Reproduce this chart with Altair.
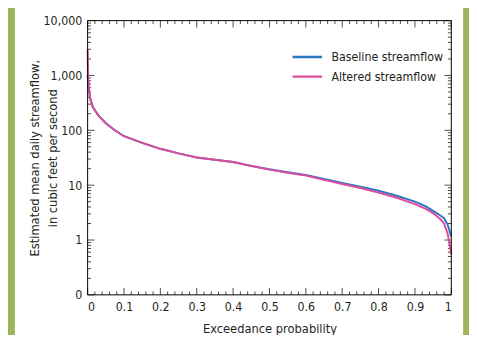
import altair as alt
import pandas as pd

prob = [0, 0.001, 0.003, 0.007, 0.015, 0.03, 0.05, 0.075, 0.1, 0.15, 0.2, 0.25, 0.3, 0.35, 0.4,
        0.45, 0.5, 0.55, 0.6, 0.65, 0.7, 0.75, 0.8, 0.85, 0.9, 0.93, 0.95, 0.97, 0.98, 0.99, 1.0]
baseline = [1000, 850, 600, 380, 260, 185, 135, 100, 78, 59, 46, 38, 32, 29, 26.5,
            22.5, 19.5, 17.2, 15.4, 13, 11, 9.4, 7.9, 6.4, 5.0, 4.1, 3.4, 2.8, 2.5, 1.9, 1.15]
altered = [3000, 1100, 620, 380, 260, 185, 135, 100, 78, 59, 46, 38, 32, 29, 26.5,
           22.3, 19.2, 16.8, 15.0, 12.5, 10.5, 8.9, 7.3, 5.9, 4.5, 3.7, 3.1, 2.4, 2.0, 1.3, 0.55]
series = ["Baseline streamflow", "Altered streamflow"]
colors = ["#2a78c0", "#dc4c9a"]

x_major = [round(i * 0.1, 1) for i in range(11)]
x_minor = [round(i * 0.02, 2) for i in range(51) if i % 5 != 0]
y_major = [0.1, 1, 10, 100, 1000, 10000]
y_minor = [m * 10 ** e for e in range(-1, 4) for m in range(2, 10)]

rows = []
for p, b in zip(prob, baseline):
    rows.append({"p": p, "q": b, "s": series[0]})
for p, a in zip(prob, altered):
    rows.append({"p": p, "q": a, "s": series[1]})
df = pd.DataFrame(rows)

W, H = 370, 279
MAJ, MIN = 7, 3.5
FONT = "Liberation Sans Narrow, DejaVu Sans Condensed, sans-serif"

xs = alt.Scale(domain=[0, 1], nice=False, zero=False)
ys = alt.Scale(type="log", domain=[0.1, 10000], nice=False)
cs = alt.Scale(domain=series, range=colors)

panel = alt.Chart(pd.DataFrame({"a": [0]})).mark_rect(fill="white").encode(
    x=alt.value(-74), x2=alt.value(382), y=alt.value(-20), y2=alt.value(330))

frame = alt.Chart(pd.DataFrame({"a": [0]})).mark_rect(
    fill="transparent", stroke="black", strokeWidth=1).encode(
    x=alt.value(0), x2=alt.value("width"), y=alt.value(0), y2=alt.value("height"))

def xticks(vals, size):
    d = pd.DataFrame({"t": vals})
    bot = alt.Chart(d).mark_tick(orient="vertical", thickness=1, size=size, color="black").encode(
        x=alt.X("t:Q", scale=xs, axis=None), y=alt.value(H - size / 2))
    top = alt.Chart(d).mark_tick(orient="vertical", thickness=1, size=size, color="black").encode(
        x=alt.X("t:Q", scale=xs, axis=None), y=alt.value(size / 2))
    return [bot, top]

def yticks(vals, size):
    d = pd.DataFrame({"t": vals})
    left = alt.Chart(d).mark_tick(orient="horizontal", thickness=1, size=size, color="black").encode(
        y=alt.Y("t:Q", scale=ys, axis=None), x=alt.value(size / 2))
    right = alt.Chart(d).mark_tick(orient="horizontal", thickness=1, size=size, color="black").encode(
        y=alt.Y("t:Q", scale=ys, axis=None), x=alt.value(W - size / 2))
    return [left, right]

lines = alt.Chart(df).mark_line(strokeWidth=2).encode(
    x=alt.X("p:Q", scale=xs, axis=alt.Axis(
        orient="bottom", values=x_major, labels=True, ticks=False, domain=False, grid=False,
        title="Exceedance probability", labelPadding=6, titlePadding=10,
        labelExpr="datum.value == 0 ? '0' : datum.value == 1 ? '1' : format(datum.value, '.1f')",
        zindex=1)),
    y=alt.Y("q:Q", scale=ys, axis=alt.Axis(
        orient="left", values=y_major, labels=True, ticks=False, domain=False, grid=False,
        title=["Estimated mean daily streamflow,", "in cubic feet per second"],
        labelPadding=6, titleX=-47, titleY=H / 2, titleAlign="center", titleBaseline="bottom",
        titleAngle=270, titleLineHeight=18,
        labelExpr="datum.value < 0.5 ? '0' : format(datum.value, ',.0f')", zindex=1)),
    color=alt.Color("s:N", scale=cs, sort=series, legend=alt.Legend(
        title=None, orient="none", legendX=207, legendY=30, symbolType="stroke",
        symbolSize=900, symbolStrokeWidth=2.5, labelFontSize=12.5, labelFont=FONT,
        labelColor="#231f20", rowPadding=6, clipHeight=14, labelOffset=8)),
    order=alt.Order("p:Q"),
)

layers = [panel] + xticks(x_major, MAJ) + xticks(x_minor, MIN) + yticks(y_major, MAJ) \
    + yticks(y_minor, MIN) + [lines, frame]

chart = alt.layer(*layers).resolve_axis(x="independent", y="independent").properties(
    width=W, height=H,
    autosize=alt.AutoSizeParams(type="none"),
    padding={"left": 81, "top": 10, "right": 18, "bottom": 38},
    background="#9db35c",
).configure_view(stroke=None).configure_axis(
    labelFont=FONT, titleFont=FONT, labelFontSize=12.5, titleFontSize=13,
    titleFontWeight="normal", labelColor="#231f20", titleColor="#231f20",
)

chart.save("out.html", embed_options={"renderer": "svg", "actions": False})
